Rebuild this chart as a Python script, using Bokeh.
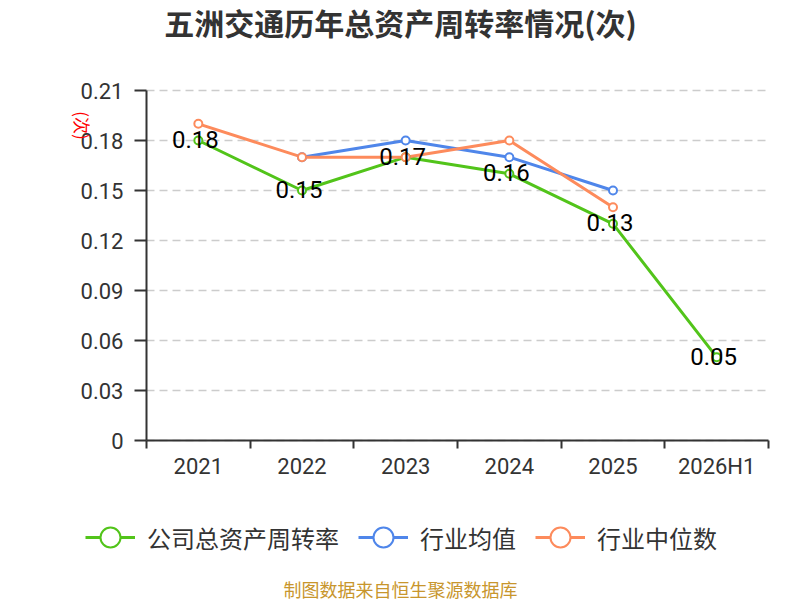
import math
from bokeh.plotting import figure
from bokeh.models import (Range1d, FixedTicker, NumeralTickFormatter, Legend,
                          LegendItem, ColumnDataSource, LabelSet, Label)
from bokeh.core.properties import value
from bokeh.embed import file_html
from bokeh.resources import INLINE

years = ["2021", "2022", "2023", "2024", "2025", "2026H1"]
company = [0.18, 0.15, 0.17, 0.16, 0.13, 0.05]
ind_avg_years = ["2022", "2023", "2024", "2025"]
ind_avg = [0.17, 0.18, 0.17, 0.15]
ind_med_years = ["2021", "2022", "2023", "2024", "2025"]
ind_med = [0.19, 0.17, 0.17, 0.18, 0.14]
y_ticks = [0, 0.03, 0.06, 0.09, 0.12, 0.15, 0.18, 0.21]
title_text = "五洲交通历年总资产周转率情况(次)"
unit_text = "(次)"
source_text = "制图数据来自恒生聚源数据库"
legend_labels = ["公司总资产周转率", "行业均值", "行业中位数"]

GREEN = "#52c41a"
BLUE = "#4f86ea"
ORANGE = "#fd8b5c"
NUM_FONT = "Roboto"
CJK_FONT = "Noto Sans CJK SC"

W, H = 800, 600
# plot area in page pixels
PL, PR, PT, PB = 146, 768, 90, 440
Y_MAX = 0.21
N = len(years)
dx = N / (PR - PL)
dy = Y_MAX / (PB - PT)

def xpos(ys):
    return [years.index(y) + 0.5 for y in ys]

p = figure(width=W, height=H, output_backend="svg", toolbar_location=None,
           x_range=Range1d(-PL * dx, N + (W - PR) * dx),
           y_range=Range1d(-(H - PB) * dy, Y_MAX + PT * dy),
           min_border=0)
p.outline_line_color = None
p.background_fill_color = "white"
p.border_fill_color = "white"

# dashed horizontal grid lines limited to the plot area
p.xgrid.visible = False
p.ygrid.visible = False
p.multi_line(xs=[[0, N] for _ in y_ticks], ys=[[t, t] for t in y_ticks],
             line_color="#cccccc", line_width=1.5, line_dash="8 5")

# x axis
xa = p.below[0]
xa.fixed_location = 0
xa.bounds = (0, N)
xa.ticker = FixedTicker(ticks=[i + 0.5 for i in range(N)], minor_ticks=list(range(N + 1)))
xa.major_label_overrides = {i + 0.5: y for i, y in enumerate(years)}
xa.major_tick_line_color = None
xa.major_tick_out = 0
xa.major_tick_in = 0
xa.minor_tick_out = 8
xa.minor_tick_in = 0
xa.minor_tick_line_color = "#333333"
xa.minor_tick_line_width = 2
xa.axis_line_color = "#333333"
xa.axis_line_width = 2
xa.major_label_text_font = NUM_FONT
xa.major_label_text_font_size = "22px"
xa.major_label_text_color = "#333333"
xa.major_label_standoff = 5

# y axis
ya = p.left[0]
ya.fixed_location = 0
ya.bounds = (0, Y_MAX)
ya.ticker = FixedTicker(ticks=y_ticks, minor_ticks=[])
ya.formatter = NumeralTickFormatter(format="0.00")
ya.major_label_overrides = {0: "0"}
ya.major_tick_out = 12
ya.major_tick_in = 0
ya.major_tick_line_color = "#333333"
ya.major_tick_line_width = 2
ya.axis_line_color = "#333333"
ya.axis_line_width = 2
ya.major_label_text_font = NUM_FONT
ya.major_label_text_font_size = "22px"
ya.major_label_text_color = "#333333"
ya.major_label_standoff = 11

# lines
lc = p.line(xpos(years), company, line_color=GREEN, line_width=3)
lb = p.line(xpos(ind_avg_years), ind_avg, line_color=BLUE, line_width=3)
lo = p.line(xpos(ind_med_years), ind_med, line_color=ORANGE, line_width=3)

# data labels
src = ColumnDataSource(dict(x=xpos(years), y=company, t=["%.2f" % v for v in company]))
p.add_layout(LabelSet(x="x", y="y", text="t", source=src, text_align="center",
                      text_baseline="middle", text_font=value(NUM_FONT),
                      text_font_size="24px", text_color="#000000",
                      x_offset=-3, y_offset=1))

# markers
mk = []
for xs, ys, c in [(xpos(years), company, GREEN), (xpos(ind_avg_years), ind_avg, BLUE),
                  (xpos(ind_med_years), ind_med, ORANGE)]:
    mk.append(p.scatter(xs, ys, marker="circle", size=8, fill_color="white",
                        line_color=c, line_width=2))

legend = Legend(items=[
    LegendItem(label=legend_labels[0], renderers=[lc, mk[0]]),
    LegendItem(label=legend_labels[1], renderers=[lb, mk[1]]),
    LegendItem(label=legend_labels[2], renderers=[lo, mk[2]]),
], orientation="horizontal", location=(85, H - 562), glyph_width=50, glyph_height=50,
    label_standoff=12, spacing=19, padding=0, margin=0, border_line_color=None,
    background_fill_alpha=0, label_text_font=CJK_FONT, label_text_font_size="24px",
    label_text_color="#333333", label_height=24)
p.add_layout(legend, "center")

# title, unit, source (screen units from bottom-left of the canvas-sized frame)
p.add_layout(Label(x=W / 2, y=H - 21, x_units="screen", y_units="screen",
                   text=title_text, text_align="center", text_baseline="middle",
                   text_font=CJK_FONT, text_font_size="30px", text_font_style="bold",
                   text_color="#333333"))
p.add_layout(Label(x=82, y=H - 125, x_units="screen", y_units="screen", text=unit_text,
                   angle=-math.pi / 2, text_align="center", text_baseline="middle",
                   text_font=CJK_FONT, text_font_size="17px", text_color="#ff0000"))
p.add_layout(Label(x=W / 2, y=H - 588, x_units="screen", y_units="screen",
                   text=source_text, text_align="center", text_baseline="middle",
                   text_font=CJK_FONT, text_font_size="18px", text_color="#c8962d"))

open("out.html", "w").write(file_html(p, INLINE))
